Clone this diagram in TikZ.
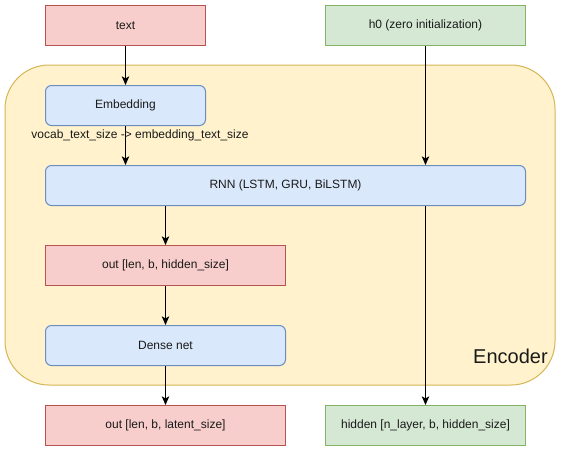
\documentclass[tikz,border=0pt]{standalone}
\usepackage{fontspec}
\setmainfont{Liberation Sans}
\usetikzlibrary{arrows.meta}
\definecolor{redfill}{HTML}{F8CECC}
\definecolor{redline}{HTML}{B85450}
\definecolor{greenfill}{HTML}{D5E8D4}
\definecolor{greenline}{HTML}{82B366}
\definecolor{bluefill}{HTML}{DAE8FC}
\definecolor{blueline}{HTML}{6C8EBF}
\definecolor{yellowfill}{HTML}{FFF2CC}
\definecolor{yellowline}{HTML}{D6B656}
\definecolor{txt}{HTML}{1A1A1A}
\begin{document}
\begin{tikzpicture}[x=0.75pt,y=-0.75pt,
  base/.style={draw, line width=0.75pt, anchor=north west, inner sep=0pt,
    font=\fontsize{9pt}{11pt}\selectfont, text=txt},
  redbox/.style={base, fill=redfill, draw=redline},
  greenbox/.style={base, fill=greenfill, draw=greenline},
  bluebox/.style={base, fill=bluefill, draw=blueline, rounded corners=4.5pt},
  arr/.style={draw=black, line width=0.75pt, -{Stealth[length=6.5pt,width=5.6pt,inset=1.6pt]}}]
\useasboundingbox (0,0) rectangle (561,451);
\fill[white] (0,0) rectangle (561,451);
% container
\draw[fill=yellowfill, draw=yellowline, line width=0.75pt, rounded corners=33pt] (5,65) rectangle (555,385);
\node[anchor=east, font=\fontsize{15pt}{18pt}\selectfont, text=txt, inner sep=0pt] (enc) at (548,356) {Encoder};
% nodes
\node[redbox, minimum width=120pt, minimum height=30pt] (text) at (45,5) {text};
\node[greenbox, minimum width=150pt, minimum height=30pt] (h0) at (325,5) {h0 (zero initialization)};
\node[bluebox, minimum width=120pt, minimum height=30pt] (emb) at (45,85) {Embedding};
\node[bluebox, minimum width=360pt, minimum height=30pt] (rnn) at (45,165) {RNN (LSTM, GRU, BiLSTM)};
\node[redbox, minimum width=180pt, minimum height=30pt] (out) at (45,245) {out [len, b, hidden\_size]};
\node[bluebox, minimum width=180pt, minimum height=30pt] (dense) at (45,325) {Dense net};
\node[redbox, minimum width=180pt, minimum height=30pt] (lat) at (45,405) {out [len, b, latent\_size]};
\node[greenbox, minimum width=150pt, minimum height=30pt] (hid) at (325,405) {hidden [n\_layer, b, hidden\_size]};
% connectors
\draw[arr] (text.south) -- (emb.north);
\draw[arr] (emb.south) -- (emb.south |- rnn.north);
\node[font=\fontsize{9pt}{11pt}\selectfont, text=txt, inner sep=0pt] (lbl) at (140,135) {vocab\_text\_size -> embedding\_text\_size};
\draw[arr] (h0.south) -- (h0.south |- rnn.north);
\draw[arr] (out.north |- rnn.south) -- (out.north);
\draw[arr] (out.south) -- (dense.north);
\draw[arr] (dense.south) -- (lat.north);
\draw[arr] (hid.north |- rnn.south) -- (hid.north);
\end{tikzpicture}
\end{document}
